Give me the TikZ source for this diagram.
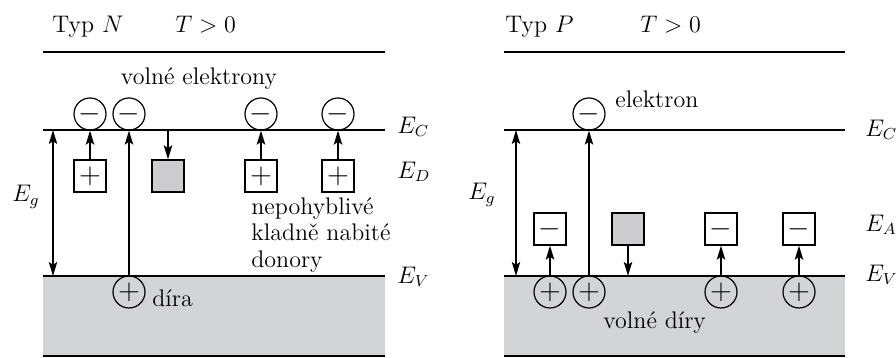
\documentclass[tikz,border=0pt]{standalone}
\usetikzlibrary{arrows.meta}

\definecolor{bandgray}{RGB}{211,212,214}
\definecolor{levelgray}{RGB}{205,205,207}

\begin{document}
\begin{tikzpicture}[x=5pt,y=5pt]

  \useasboundingbox (0,0) rectangle (89.6,35.8);
  \coordinate (X) at (0,0);

  % node styles
  \tikzstyle{Txt}=[font=\fontsize{12}{13.3}\selectfont,inner sep=0pt]
  \tikzstyle{Sign}=[font=\fontsize{14}{14}\selectfont,inner sep=0pt,line width=0.6pt,draw]
  \tikzstyle{Carrier}=[Sign,shape=circle,minimum size=16pt]
  \tikzstyle{Level}=[Sign,shape=rectangle,minimum size=16pt]

  % line styles
  \tikzstyle{Band}=[line width=0.65pt]
  \tikzstyle{Jump}=[line width=1pt,-{Stealth[length=7pt,width=4.2pt,inset=1.4pt]}]
  \tikzstyle{Long}=[line width=0.55pt,-{Stealth[length=7pt,width=4.2pt,inset=1.4pt]}]
  \tikzstyle{Gap}=[line width=0.55pt,{Stealth[length=7pt,width=4.2pt,inset=1.4pt]}-{Stealth[length=7pt,width=4.2pt,inset=1.4pt]}]

  % ---- typ N ----
  \fill[bandgray] (4.3,0.2) rectangle (38.5,8.2);
  \draw[Band] (4.3,30.6) -- (38.5,30.6);
  \draw[Band] (4.3,22.8) -- (38.5,22.8);
  \draw[Band] (4.3,8.2) -- (38.5,8.2);
  \draw[Band] (4.3,0.2) -- (38.5,0.2);

  \draw (X) node[Txt,anchor=base west] (typN) at +( 5.2,32.5) {Typ $N$};
  \draw (X) node[Txt,anchor=base west] (tN)   at +(17.5,32.5) {$T>0$};
  \draw (X) node[Txt,anchor=base]      (free) at +(19.9,27.3) {volné elektrony};

  \draw (X) node[Carrier] (eA) at +( 9.0,24.4) {$-$};
  \draw (X) node[Carrier] (eB) at +(12.9,24.4) {$-$};
  \draw (X) node[Carrier] (eC) at +(26.1,24.4) {$-$};
  \draw (X) node[Carrier] (eD) at +(33.8,24.4) {$-$};

  \draw (X) node[Level] (dA) at +( 9.0,18.2) {$+$};
  \draw (X) node[Level,fill=levelgray] (dB) at +(16.8,18.2) {};
  \draw (X) node[Level] (dC) at +(26.1,18.2) {$+$};
  \draw (X) node[Level] (dD) at +(33.8,18.2) {$+$};

  \draw (X) node[Carrier] (hB) at +(12.9,6.6) {$+$};
  \draw (X) node[Txt,anchor=base west] (hole) at +(15.2,5.1) {díra};
  \draw (X) node[Txt,anchor=north west,align=left] (donor) at +(25.1,16.1)
    {nepohyblivé\\kladně nabité\\donory};

  \draw (X) node[Txt,anchor=west] (ECn) at +(39.7,23.1) {$E_C$};
  \draw (X) node[Txt,anchor=west] (EDn) at +(39.7,18.6) {$E_D$};
  \draw (X) node[Txt,anchor=west] (EVn) at +(39.7, 8.1) {$E_V$};
  \draw (X) node[Txt,anchor=west] (Egn) at +( 1.2,16.1) {$E_g$};

  \coordinate (gapNt) at (5.3,22.8);
  \coordinate (gapNb) at (5.3,8.2);
  \coordinate (capN)  at (16.8,22.8);

  \draw[Gap]  (gapNt) -- (gapNb);
  \draw[Jump] (dA.north) -- (eA.south);
  \draw[Long] (hB.north) -- (eB.south);
  \draw[Jump] (capN) -- (dB.north);
  \draw[Jump] (dC.north) -- (eC.south);
  \draw[Jump] (dD.north) -- (eD.south);

  % ---- typ P ----
  \fill[bandgray] (50.4,0.2) rectangle (84.5,8.2);
  \draw[Band] (50.4,30.6) -- (84.5,30.6);
  \draw[Band] (50.4,22.8) -- (84.5,22.8);
  \draw[Band] (50.4,8.2) -- (84.5,8.2);
  \draw[Band] (50.4,0.2) -- (84.5,0.2);

  \draw (X) node[Txt,anchor=base west] (typP) at +(50.5,32.5) {Typ $P$};
  \draw (X) node[Txt,anchor=base west] (tP)   at +(64.0,32.5) {$T>0$};

  \draw (X) node[Carrier] (eP) at +(58.9,24.4) {$-$};
  \draw (X) node[Txt,anchor=base west] (elec) at +(61.5,25.0) {elektron};

  \draw (X) node[Level] (aA) at +(55.0,12.9) {$-$};
  \draw (X) node[Level,fill=levelgray] (aB) at +(62.8,12.9) {};
  \draw (X) node[Level] (aC) at +(72.1,12.9) {$-$};
  \draw (X) node[Level] (aD) at +(79.9,12.9) {$-$};

  \draw (X) node[Carrier] (pA) at +(55.0,6.6) {$+$};
  \draw (X) node[Carrier] (pB) at +(58.9,6.6) {$+$};
  \draw (X) node[Carrier] (pC) at +(72.1,6.6) {$+$};
  \draw (X) node[Carrier] (pD) at +(79.9,6.6) {$+$};
  \draw (X) node[Txt,anchor=base west] (holes) at +(60.3,2.9) {volné díry};

  \draw (X) node[Txt,anchor=west] (ECp) at +(86.5,22.8) {$E_C$};
  \draw (X) node[Txt,anchor=west] (EAp) at +(86.5,13.3) {$E_A$};
  \draw (X) node[Txt,anchor=west] (EVp) at +(86.5, 8.3) {$E_V$};
  \draw (X) node[Txt,anchor=west] (Egp) at +(46.8,16.3) {$E_g$};

  \coordinate (gapPt) at (51.6,22.8);
  \coordinate (gapPb) at (51.6,8.2);
  \coordinate (capP)  at (62.8,8.2);

  \draw[Gap]  (gapPt) -- (gapPb);
  \draw[Jump] (pA.north) -- (aA.south);
  \draw[Long] (pB.north) -- (eP.south);
  \draw[Jump] (aB.south) -- (capP);
  \draw[Jump] (pC.north) -- (aC.south);
  \draw[Jump] (pD.north) -- (aD.south);

\end{tikzpicture}
\end{document}
